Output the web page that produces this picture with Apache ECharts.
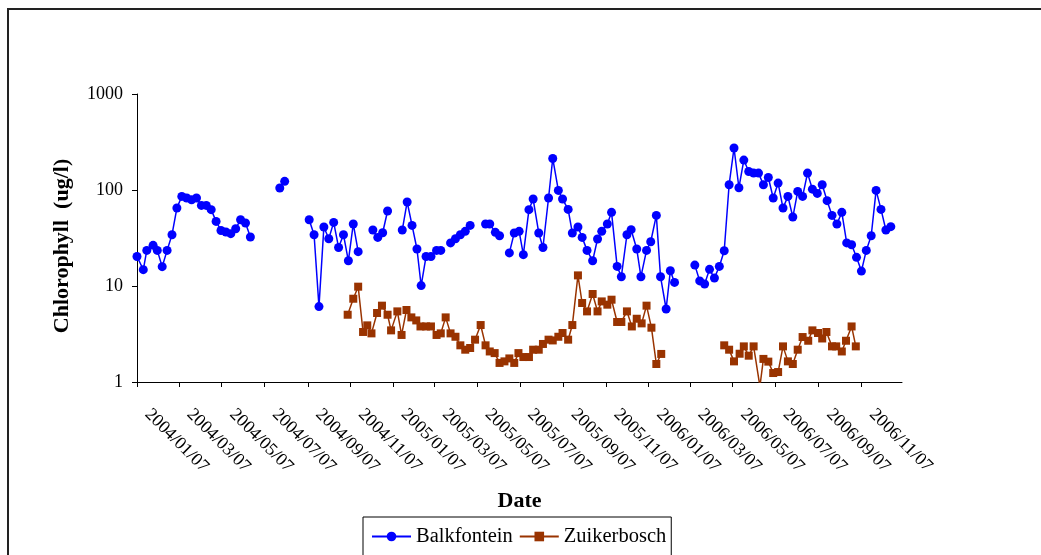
<!DOCTYPE html>
<html>
<head>
<meta charset="utf-8">
<script src="https://cdn.jsdelivr.net/npm/echarts@6/dist/echarts.min.js"></script>
<style>
html,body{margin:0;padding:0;background:#fff;}
#chart{width:1041px;height:555px;}
</style>
</head>
<body>
<div id="chart"></div>
<script>
// ---- data ----
const tickLabels = ['2004/01/07','2004/03/07','2004/05/07','2004/07/07','2004/09/07','2004/11/07',
  '2005/01/07','2005/03/07','2005/05/07','2005/07/07','2005/09/07','2005/11/07',
  '2006/01/07','2006/03/07','2006/05/07','2006/07/07','2006/09/07','2006/11/07'];

const balkDates = [
 '2004-01-07','2004-01-16','2004-01-21','2004-01-30','2004-02-05','2004-02-12','2004-02-19','2004-02-26',
 '2004-03-04','2004-03-11','2004-03-18','2004-03-25','2004-04-01','2004-04-08','2004-04-15','2004-04-22',
 '2004-04-29','2004-05-06','2004-05-13','2004-05-20','2004-05-27','2004-06-03','2004-06-10','2004-06-17',
 '2004-07-01',
 '2004-07-29','2004-08-05',
 '2004-08-20',
 '2004-09-09','2004-09-16','2004-09-23','2004-09-30','2004-10-07','2004-10-14','2004-10-21','2004-10-28',
 '2004-11-04','2004-11-11','2004-11-18',
 '2004-11-28',
 '2004-12-09','2004-12-16','2004-12-23','2004-12-30',
 '2005-01-10',
 '2005-01-20','2005-01-27','2005-02-03','2005-02-10','2005-02-16','2005-02-23','2005-03-02','2005-03-10','2005-03-16',
 '2005-03-23',
 '2005-03-30','2005-04-06','2005-04-13','2005-04-20','2005-04-27',
 '2005-05-08',
 '2005-05-19','2005-05-25','2005-06-02','2005-06-08',
 '2005-06-15',
 '2005-06-22','2005-06-29','2005-07-06','2005-07-12','2005-07-20','2005-07-26','2005-08-03','2005-08-09',
 '2005-08-17','2005-08-23','2005-08-31','2005-09-06','2005-09-14','2005-09-20','2005-09-28','2005-10-04',
 '2005-10-11','2005-10-19','2005-10-26','2005-11-01','2005-11-09','2005-11-15','2005-11-23','2005-11-29',
 '2005-12-07','2005-12-13','2005-12-21','2005-12-27','2006-01-04','2006-01-10','2006-01-18','2006-01-24',
 '2006-02-01','2006-02-07','2006-02-13',
 '2006-02-28',
 '2006-03-14','2006-03-21','2006-03-28','2006-04-04','2006-04-11','2006-04-18','2006-04-25','2006-05-02',
 '2006-05-09','2006-05-16','2006-05-23','2006-05-30','2006-06-06','2006-06-13','2006-06-20','2006-06-27',
 '2006-07-04','2006-07-11','2006-07-18','2006-07-25','2006-08-01','2006-08-08','2006-08-15','2006-08-22',
 '2006-08-29','2006-09-05','2006-09-12','2006-09-19','2006-09-26','2006-10-03','2006-10-10','2006-10-17',
 '2006-10-24','2006-10-31','2006-11-07','2006-11-14','2006-11-21','2006-11-28','2006-12-05','2006-12-12',
 '2006-12-19'];
const balkValues = [
 20.3,14.8,23.5,26.5,23.5,15.9,23.5,34.2,
 64.9,85.8,82.6,79.2,82.6,69.1,69.1,62.4,
 47.1,37.9,36.5,35.1,39.5,49.0,45.3,32.4,
 null,
 105,123,
 null,
 49,34.2,6.1,41.2,31.1,46,25.2,34.2,
 18.3,44.3,22.8,
 null,
 38.3,32.1,35.9,60.4,
 null,
 38.3,75,42.8,24.3,10.1,20.3,20.3,23.5,23.5,
 null,
 28.1,31.1,34.2,37.1,42.8,
 null,
 44.3,44.3,36.2,33.4,
 null,
 22.1,35.7,37.1,21.2,62.4,80.5,35.7,25.2,
 82.6,213,99,80.5,62.8,35.7,41.2,32.1,
 23.5,18.3,30.9,37.1,44.3,58.5,16.0,12.5,
 34.2,38.6,24.3,12.5,23.5,28.9,54.4,12.5,
 5.76,14.4,10.9,
 null,
 16.5,11.3,10.5,14.9,12.1,16.0,23.3,113.5,
 274,105.6,205,156,150,150,113.5,135,
 82.6,118,64.9,85.8,52.3,96.7,85.8,150,
 102,92.2,113.5,77.4,54.4,44.3,58.5,28.1,
 26.9,19.9,14.3,23.5,33.4,99,62.8,38.3,
 41.5];

const zuikDates = [
 '2004-11-03','2004-11-11','2004-11-18','2004-11-25','2004-12-01','2004-12-07','2004-12-15','2004-12-22',
 '2004-12-30','2005-01-04','2005-01-13','2005-01-19','2005-01-26','2005-02-02','2005-02-09','2005-02-15',
 '2005-02-23','2005-03-02','2005-03-10','2005-03-16','2005-03-23','2005-03-30','2005-04-06','2005-04-13',
 '2005-04-20','2005-04-27','2005-05-04','2005-05-12','2005-05-19','2005-05-25','2005-06-01','2005-06-08',
 '2005-06-15','2005-06-22','2005-06-29','2005-07-05','2005-07-12','2005-07-20','2005-07-26','2005-08-03',
 '2005-08-09','2005-08-17','2005-08-23','2005-08-31','2005-09-06','2005-09-14','2005-09-20','2005-09-28',
 '2005-10-04','2005-10-11','2005-10-19','2005-10-26','2005-11-01','2005-11-09','2005-11-15','2005-11-23',
 '2005-11-29','2005-12-07','2005-12-14','2005-12-21','2005-12-28','2006-01-04','2006-01-11','2006-01-18',
 '2006-01-25',
 '2006-03-01',
 '2006-04-25','2006-05-02','2006-05-09','2006-05-17','2006-05-23','2006-05-30','2006-06-06','2006-06-15',
 '2006-06-20','2006-06-27','2006-07-04','2006-07-11','2006-07-18','2006-07-25','2006-08-01','2006-08-08',
 '2006-08-15','2006-08-23','2006-08-29','2006-09-06','2006-09-12','2006-09-18','2006-09-26','2006-10-02',
 '2006-10-10','2006-10-16','2006-10-24','2006-10-30'];
const zuikValues = [
 5.02,7.37,9.84,3.32,3.89,3.21,5.23,6.24,
 5.02,3.45,5.44,3.09,5.62,4.71,4.38,3.79,
 3.79,3.79,3.09,3.21,4.71,3.21,2.96,2.41,
 2.17,2.26,2.76,3.92,2.41,2.08,2.0,1.58,
 1.64,1.76,1.58,2.0,1.82,1.82,2.17,2.17,
 2.49,2.76,2.71,2.96,3.24,2.76,3.92,12.9,
 6.65,5.44,8.25,5.44,6.91,6.39,7.2,4.22,
 4.22,5.44,3.79,4.56,4.08,6.24,3.68,1.54,
 1.96,
 null,
 2.41,2.17,1.64,1.97,2.35,1.88,2.35,0.9,
 1.74,1.63,1.24,1.27,2.35,1.64,1.54,2.17,
 2.94,2.69,3.45,3.24,2.84,3.32,2.35,2.35,
 2.08,2.69,3.79,2.35];

const yTicks = [1, 10, 100, 1000];
const xStart = '2004/01/07';
const xEnd = '2007/01/04';

// ---- helpers ----
function parseDay(s) { const p = s.split(/[-\/]/).map(Number); return new Date(p[0], p[1]-1, p[2]).getTime(); }
const tickValues = tickLabels.map(parseDay);
function pad(n){ return (n < 10 ? '0' : '') + n; }
function fmt(v){ const d = new Date(v); return d.getFullYear() + '/' + pad(d.getMonth()+1) + '/' + pad(d.getDate()); }
function toData(dates, vals){ return dates.map((d,i) => [parseDay(d), vals[i] == null ? '-' : vals[i]]); }

const FONT = '"Liberation Serif", "Times New Roman", serif';
const chart = echarts.init(document.getElementById('chart'), null, {renderer: 'canvas'});
chart.setOption({
  animation: false,
  backgroundColor: '#fff',
  textStyle: {fontFamily: FONT, color: '#000'},
  graphic: [{
    type: 'rect', silent: true, z: -1,
    shape: {x: 8, y: 9, width: 1200, height: 700},
    style: {fill: 'none', stroke: '#222', lineWidth: 2}
  }],
  grid: {left: 137, right: 139, top: 94, bottom: 173, containLabel: false},
  legend: {
    left: 363, top: 517,
    padding: [9, 5, 12, 8],
    borderColor: '#000', borderWidth: 1,
    itemWidth: 39, itemHeight: 12, itemGap: 6,
    textStyle: {fontFamily: FONT, fontSize: 20.5, color: '#000'},
    data: ['Balkfontein', 'Zuikerbosch']
  },
  xAxis: {
    type: 'value',
    min: parseDay(xStart),
    max: parseDay(xEnd),
    scale: false,
    name: 'Date',
    nameLocation: 'middle',
    nameGap: 108,
    nameMoveOverlap: false,
    nameTextStyle: {fontFamily: FONT, fontSize: 22, fontWeight: 'bold', color: '#000'},
    axisLine: {show: true, lineStyle: {color: '#000', width: 1}},
    axisTick: {show: true, inside: false, length: 5, customValues: tickValues, lineStyle: {color: '#000'}},
    axisLabel: {
      customValues: tickValues,
      rotate: -45,
      margin: 19,
      padding: [0, 0, 0, 15],
      hideOverlap: false,
      showMinLabel: true, showMaxLabel: true,
      fontFamily: FONT, fontSize: 18, color: '#000',
      formatter: fmt
    },
    splitLine: {show: false}
  },
  yAxis: {
    type: 'log',
    logBase: 10,
    min: 1, max: 1000,
    name: 'Chlorophyll  (ug/l)',
    nameLocation: 'middle',
    nameGap: 64,
    nameMoveOverlap: false,
    nameTextStyle: {fontFamily: FONT, fontSize: 22, fontWeight: 'bold', color: '#000', padding: [0, 16, 0, 0]},
    axisLine: {show: true, lineStyle: {color: '#000', width: 1}},
    axisTick: {show: true, inside: false, length: 5, lineStyle: {color: '#000'}},
    axisLabel: {margin: 14, fontFamily: FONT, fontSize: 18, color: '#000',
      formatter: v => String(Math.round(v))},
    splitLine: {show: false}
  },
  series: [
    {
      name: 'Balkfontein', type: 'line',
      data: toData(balkDates, balkValues),
      symbol: 'circle', symbolSize: 9,
      connectNulls: false, clip: true,
      itemStyle: {color: '#0000FF'},
      lineStyle: {color: '#0000FF', width: 1.5}
    },
    {
      name: 'Zuikerbosch', type: 'line',
      data: toData(zuikDates, zuikValues),
      symbol: 'rect', symbolSize: 8,
      connectNulls: false, clip: true,
      itemStyle: {color: '#993300'},
      lineStyle: {color: '#993300', width: 1.5}
    }
  ]
});
</script>
</body>
</html>
